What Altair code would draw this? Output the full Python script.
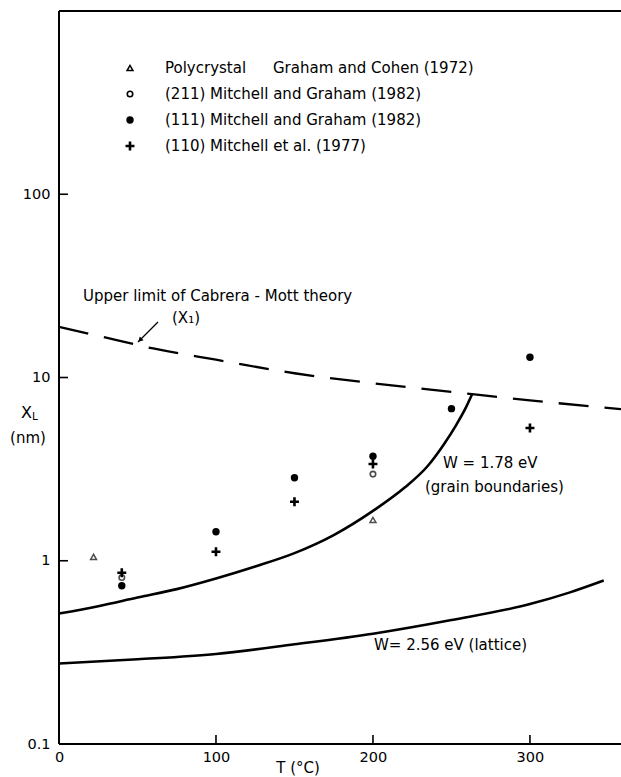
import altair as alt
import pandas as pd

# --- measured series -------------------------------------------------------
# Polycrystal, Graham and Cohen (1972)
poly_T = [22, 200]
poly_X = [1.05, 1.67]
# (211) Mitchell and Graham (1982)
o211_T = [40, 200]
o211_X = [0.81, 2.97]
# (111) Mitchell and Graham (1982)
o111_T = [40, 100, 150, 200, 250, 300]
o111_X = [0.73, 1.44, 2.84, 3.72, 6.76, 12.9]
# (110) Mitchell et al. (1977)
o110_T = [40, 100, 150, 200, 300]
o110_X = [0.86, 1.12, 2.10, 3.37, 5.30]

# --- model curves -------------------------------------------------------------
# upper limit of Cabrera-Mott theory (X1)
cm_T = [0, 30, 60, 100, 150, 200, 250, 300, 358]
cm_X = [18.9, 16.5, 14.4, 12.5, 10.55, 9.3, 8.35, 7.5, 6.72]
# W = 1.78 eV, grain boundaries
gb_T = [0, 25, 50, 75, 100, 125, 150, 175, 200, 220, 235, 245, 253, 259, 263]
gb_X = [0.515, 0.565, 0.63, 0.70, 0.80, 0.93, 1.10, 1.38, 1.87, 2.5, 3.3, 4.3, 5.5, 6.8, 8.05]
# W = 2.56 eV, lattice
lat_T = [0, 50, 100, 150, 200, 250, 300, 325, 347]
lat_X = [0.275, 0.29, 0.31, 0.35, 0.40, 0.475, 0.58, 0.67, 0.78]

x_ticks = [0, 100, 200, 300]
y_ticks = [0.1, 1, 10, 100]

FONT = "DejaVu Sans"
FS = 14.5   # tick labels
TS = 15     # annotation text
W, H = 562, 733
LEFT, TOP = 59, 11

xscale = alt.Scale(domain=[0, 358], nice=False, zero=False)
yscale = alt.Scale(type="log", domain=[0.1, 1000], nice=False)
xaxis = alt.Axis(values=x_ticks, format="d", ticks=False, domain=False, grid=False,
                 labelFont=FONT, labelFontSize=FS, labelPadding=6, labelColor="black",
                 title=None, labelFlush=False)
yaxis = alt.Axis(values=y_ticks, format="~g", ticks=False, domain=False, grid=False,
                 labelFont=FONT, labelFontSize=FS, labelPadding=9, labelColor="black",
                 title=None)

X = alt.X("T:Q", scale=xscale, axis=xaxis)
Y = alt.Y("X:Q", scale=yscale, axis=yaxis)


def frame(ts, xs):
    return pd.DataFrame({"T": ts, "X": xs})


cm_line = alt.Chart(frame(cm_T, cm_X)).mark_line(
    color="black", strokeWidth=2.3, strokeDash=[30, 16], interpolate="monotone"
).encode(x=X, y=Y)
gb_line = alt.Chart(frame(gb_T, gb_X)).mark_line(
    color="black", strokeWidth=2.6, interpolate="monotone"
).encode(x=X, y=Y)
lat_line = alt.Chart(frame(lat_T, lat_X)).mark_line(
    color="black", strokeWidth=2.6, interpolate="monotone"
).encode(x=X, y=Y)

PLUS = "M-1,0L1,0M0,-1L0,1"

poly_pts = alt.Chart(frame(poly_T, poly_X)).mark_point(
    shape="triangle-up", filled=False, color="black", size=35, strokeWidth=1.5
).encode(x=X, y=Y)
o211_pts = alt.Chart(frame(o211_T, o211_X)).mark_point(
    shape="circle", filled=False, color="black", size=30, strokeWidth=1.6
).encode(x=X, y=Y)
o111_pts = alt.Chart(frame(o111_T, o111_X)).mark_point(
    shape="circle", filled=True, color="black", size=55, opacity=1
).encode(x=X, y=Y)
o110_pts = alt.Chart(frame(o110_T, o110_X)).mark_point(
    shape=PLUS, filled=False, color="black", size=80, strokeWidth=2.6, opacity=1
).encode(x=X, y=Y)

# inward tick marks
ytick = alt.Chart(pd.DataFrame({"X": y_ticks[1:]})).mark_rule(
    color="black", strokeWidth=1.6
).encode(y=Y, x=alt.value(0), x2=alt.value(9))
xtick = alt.Chart(pd.DataFrame({"T": x_ticks[1:]})).mark_rule(
    color="black", strokeWidth=1.6
).encode(x=X, y=alt.value(H), y2=alt.value(H - 9))

# frame: top, left and bottom edges (open on the right)
edge = dict(color="black", strokeWidth=2)
top_edge = alt.Chart(pd.DataFrame({"k": [0]})).mark_rule(**edge).encode(
    x=alt.value(0), x2=alt.value(W), y=alt.value(0))
left_edge = alt.Chart(pd.DataFrame({"k": [0]})).mark_rule(**edge).encode(
    x=alt.value(0), y=alt.value(0), y2=alt.value(H))
bottom_edge = alt.Chart(pd.DataFrame({"k": [0]})).mark_rule(**edge).encode(
    x=alt.value(0), x2=alt.value(W), y=alt.value(H))


def label(text, px, py, size=TS, align="left"):
    return alt.Chart(pd.DataFrame({"t": [text]})).mark_text(
        font=FONT, fontSize=size, color="black", align=align, baseline="middle"
    ).encode(text="t:N", x=alt.value(px - LEFT), y=alt.value(py - TOP))


def key(shape, py, filled, size, sw):
    return alt.Chart(pd.DataFrame({"k": [0]})).mark_point(
        shape=shape, filled=filled, color="black", size=size, strokeWidth=sw, opacity=1
    ).encode(x=alt.value(130 - LEFT), y=alt.value(py - TOP))


legend = [
    key("triangle-up", 68, False, 35, 1.5),
    key("circle", 94, False, 30, 1.6),
    key("circle", 120, True, 55, 0),
    key(PLUS, 146, False, 80, 2.6),
    label("Polycrystal", 165, 68),
    label("Graham and Cohen (1972)", 273, 68),
    label("(211)  Mitchell and  Graham (1982)", 165, 94),
    label("(111)  Mitchell and  Graham (1982)", 165, 120),
    label("(110)  Mitchell et al.  (1977)", 165, 146),
]

notes = [
    label("Upper limit  of  Cabrera - Mott  theory", 83, 296),
    label("(X₁)", 172, 318),
    label("W = 1.78  eV", 443, 463),
    label("(grain boundaries)", 425, 487),
    label("W= 2.56  eV  (lattice)", 374, 645),
    label("X", 21, 413, size=16),
    label("L", 32, 417, size=10.5),
    label("(nm)", 28, 438, align="center"),
    label("T (°C)", 298, 768, align="center"),
]

# arrow pointing at the dashed curve
arrow = alt.Chart(pd.DataFrame({"k": [0]})).mark_rule(
    color="black", strokeWidth=1.2
).encode(x=alt.value(158 - LEFT), y=alt.value(322 - TOP),
         x2=alt.value(138 - LEFT), y2=alt.value(342 - TOP))
arrow_head = alt.Chart(pd.DataFrame({"k": [0]})).mark_point(
    shape="triangle-up", filled=True, color="black", size=30, angle=225, opacity=1
).encode(x=alt.value(140 - LEFT), y=alt.value(340 - TOP))

chart = alt.layer(
    top_edge, left_edge, bottom_edge,
    lat_line, gb_line, cm_line, ytick, xtick,
    poly_pts, o211_pts, o111_pts, o110_pts,
    arrow, arrow_head, *legend, *notes
).properties(
    width=W, height=H,
    autosize=alt.AutoSizeParams(type="none"),
    padding={"left": LEFT, "top": TOP, "right": 0, "bottom": 777 - TOP - H},
    background="white",
).configure_view(
    strokeWidth=0
)

chart.save("out.html", embed_options={"renderer": "svg", "actions": False})
